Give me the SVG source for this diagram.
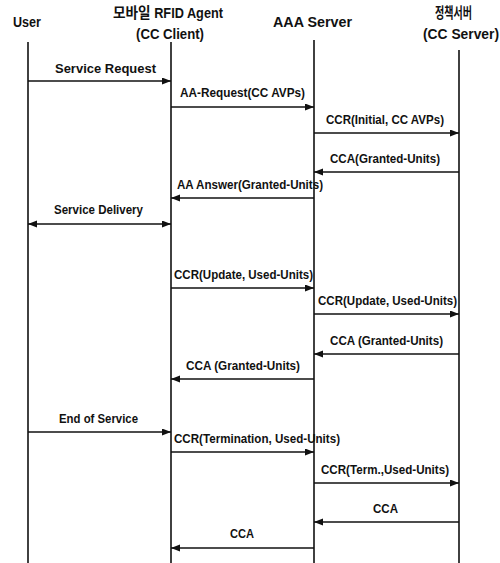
<svg xmlns="http://www.w3.org/2000/svg" width="500" height="563" viewBox="0 0 500 563">
<style>
text{font-family:"Liberation Sans","Noto Sans CJK KR",Arial,sans-serif;font-weight:bold;font-size:13px;fill:#111}
.hd{font-size:14px}
.ko{font-family:"Noto Sans CJK KR",sans-serif;font-size:15px;font-weight:bold}
.life{stroke:#111;stroke-width:1.6;fill:none}
.msg{stroke:#111;stroke-width:1.6;fill:none;marker-end:url(#ah)}
</style>
<defs>
<marker id="ah" markerUnits="userSpaceOnUse" markerWidth="10" markerHeight="8" refX="9" refY="3.5" orient="auto-start-reverse">
<path d="M0,0 L9,3.5 L0,7 z" fill="#111"/>
</marker>
</defs>
<rect width="500" height="563" fill="#fff"/>
<g id="user">
<text class="hd" x="13" y="27" textLength="28" lengthAdjust="spacingAndGlyphs">User</text>
<line class="life" x1="28" y1="42" x2="28" y2="563"/>
</g>
<g id="agent">
<text class="hd" x="113" y="18" textLength="110" lengthAdjust="spacingAndGlyphs"><tspan class="ko">모바일</tspan> RFID Agent</text>
<text class="hd" x="136" y="39" textLength="68" lengthAdjust="spacingAndGlyphs">(CC Client)</text>
<line class="life" x1="171" y1="42" x2="171" y2="563"/>
</g>
<g id="aaa">
<text class="hd" x="273" y="27" textLength="79" lengthAdjust="spacingAndGlyphs">AAA Server</text>
<line class="life" x1="314" y1="40" x2="314" y2="563"/>
</g>
<g id="ccserver">
<text class="ko" x="435" y="18" textLength="37" lengthAdjust="spacingAndGlyphs">정책서버</text>
<text class="hd" x="423" y="39" textLength="76" lengthAdjust="spacingAndGlyphs">(CC Server)</text>
<line class="life" x1="459" y1="50" x2="459" y2="563"/>
</g>
<g id="connectors">
<line class="msg" x1="28" y1="81" x2="171" y2="81"/>
<text x="55" y="73" textLength="101" lengthAdjust="spacingAndGlyphs">Service Request</text>
<line class="msg" x1="171" y1="107" x2="314" y2="107"/>
<text x="180" y="97" textLength="125" lengthAdjust="spacingAndGlyphs">AA-Request(CC AVPs)</text>
<line class="msg" x1="314" y1="133" x2="459" y2="133"/>
<text x="326" y="124" textLength="118" lengthAdjust="spacingAndGlyphs">CCR(Initial, CC AVPs)</text>
<line class="msg" x1="459" y1="172" x2="314" y2="172"/>
<text x="330" y="163" textLength="110" lengthAdjust="spacingAndGlyphs">CCA(Granted-Units)</text>
<line class="msg" x1="314" y1="198" x2="171" y2="198"/>
<text x="177" y="189" textLength="146" lengthAdjust="spacingAndGlyphs">AA Answer(Granted-Units)</text>
<line class="msg" x1="28" y1="224" x2="171" y2="224" style="marker-start:url(#ah)"/>
<text x="54" y="214" textLength="89" lengthAdjust="spacingAndGlyphs">Service Delivery</text>
<line class="msg" x1="171" y1="288" x2="314" y2="288"/>
<text x="174" y="279" textLength="139" lengthAdjust="spacingAndGlyphs">CCR(Update, Used-Units)</text>
<line class="msg" x1="314" y1="314" x2="459" y2="314"/>
<text x="318" y="305" textLength="139" lengthAdjust="spacingAndGlyphs">CCR(Update, Used-Units)</text>
<line class="msg" x1="459" y1="354" x2="314" y2="354"/>
<text x="330" y="345" textLength="113" lengthAdjust="spacingAndGlyphs">CCA (Granted-Units)</text>
<line class="msg" x1="314" y1="379" x2="171" y2="379"/>
<text x="186" y="370" textLength="114" lengthAdjust="spacingAndGlyphs">CCA (Granted-Units)</text>
<line class="msg" x1="28" y1="432" x2="171" y2="432"/>
<text x="59" y="423" textLength="79" lengthAdjust="spacingAndGlyphs">End of Service</text>
<line class="msg" x1="171" y1="452" x2="314" y2="452"/>
<text x="174" y="443" textLength="166" lengthAdjust="spacingAndGlyphs">CCR(Termination, Used-Units)</text>
<line class="msg" x1="314" y1="483" x2="459" y2="483"/>
<text x="321" y="474" textLength="128" lengthAdjust="spacingAndGlyphs">CCR(Term.,Used-Units)</text>
<line class="msg" x1="459" y1="522" x2="314" y2="522"/>
<text x="373" y="513" textLength="25" lengthAdjust="spacingAndGlyphs">CCA</text>
<line class="msg" x1="314" y1="548" x2="171" y2="548"/>
<text x="230" y="538" textLength="24" lengthAdjust="spacingAndGlyphs">CCA</text>
</g>
</svg>
